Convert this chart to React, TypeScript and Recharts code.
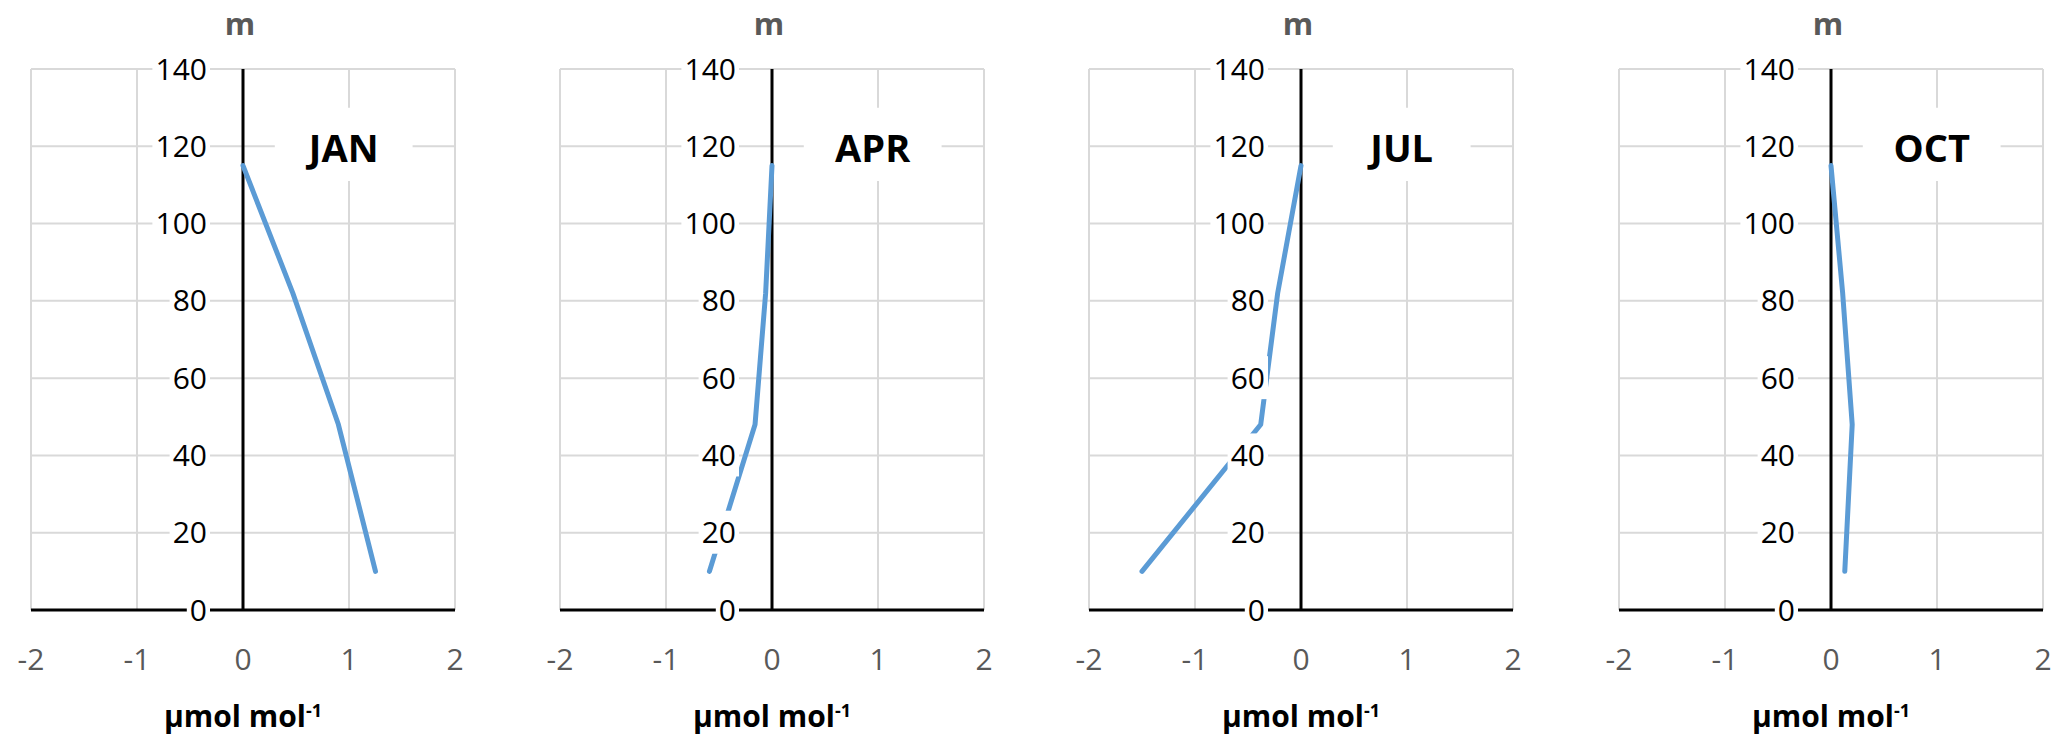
import { LineChart, Line, XAxis, YAxis, CartesianGrid, ReferenceLine, ReferenceArea } from 'recharts'

// depth profiles, one per season (heights in m, values in µmol mol-1)
const MONTHS = ['JAN', 'APR', 'JUL', 'OCT']
const HEIGHTS = [10, 48, 82, 115]
const JAN = [1.25, 0.9, 0.47, 0]
const APR = [-0.59, -0.16, -0.06, 0]
const JUL = [-1.5, -0.38, -0.22, 0]
const OCT = [0.13, 0.2, 0.11, 0]
const PROFILES = [JAN, APR, JUL, OCT]
const X_TICKS = [-2, -1, 0, 1, 2]
const Y_TICKS = [0, 20, 40, 60, 80, 100, 120, 140]

const W = 529
const H = 750
const Y_AXIS_W = 2
const M = { top: 69, right: 74, bottom: 80, left: 31 - Y_AXIS_W }
const ZERO_X = 31 + (W - 31 - M.right) / 2
const PANEL_LEFT = [0, 529, 1058, 1588]
const FONT = '"Open Sans", sans-serif'

function YTick({ y, payload }: any) {
  const s = String(payload.value)
  const right = ZERO_X - 36
  const w = s.length * 17.2
  return (
    <g>
      <rect x={right - w - 3} y={y - 22} width={w + 6} height={43} fill="#fff" />
      <text x={right} y={y + 10.5} textAnchor="end" fontSize={30} fontFamily={FONT} fill="#000">
        {s}
      </text>
    </g>
  )
}

function XTick({ x, payload }: any) {
  return (
    <text x={x} y={670} textAnchor="middle" fontSize={30} fontFamily={FONT} fill="#595959">
      {payload.value}
    </text>
  )
}

function UnitLabel({ viewBox }: any) {
  const cx = viewBox ? viewBox.x + viewBox.width / 2 : ZERO_X
  return (
    <text x={cx} y={727} textAnchor="middle" fontSize={30} fontWeight={700} fontFamily={FONT} fill="#000">
      µmol mol<tspan fontSize={18} dy={-10}>-1</tspan>
    </text>
  )
}

function MLabel() {
  return (
    <text x={ZERO_X - 3} y={35} textAnchor="middle" fontSize={31} fontWeight={700} fontFamily={FONT} fill="#595959">
      m
    </text>
  )
}

function MonthLabel({ viewBox, text }: any) {
  const cx = viewBox.x + viewBox.width / 2
  const cy = viewBox.y + viewBox.height / 2
  return (
    <text x={cx} y={cy + 18} textAnchor="middle" fontSize={38} fontWeight={700} fontFamily={FONT} fill="#000">
      {text}
    </text>
  )
}

function Panel({ month, values }: { month: string; values: number[] }) {
  const data = HEIGHTS.map((h, i) => ({ h, v: values[i] }))
  return (
    <LineChart width={W} height={H} data={data} margin={M} style={{ fontFamily: FONT }}>
      <CartesianGrid stroke="#d9d9d9" strokeWidth={2} />
      <ReferenceArea
        x1={0.3}
        x2={1.6}
        y1={111}
        y2={130}
        fill="#fff"
        fillOpacity={1}
        stroke="none"
        zIndex={-50}
        label={<MonthLabel text={month} />}
      />
      <ReferenceLine x={0} stroke="#000" strokeWidth={3} zIndex={300} label={<MLabel />} />
      <Line
        type="linear"
        dataKey="h"
        stroke="#5b9bd5"
        strokeWidth={5}
        strokeLinecap="round"
        strokeLinejoin="round"
        dot={false}
        activeDot={false}
        isAnimationActive={false}
      />
      <XAxis
        type="number"
        dataKey="v"
        domain={[-2, 2]}
        ticks={X_TICKS}
        axisLine={{ stroke: '#000', strokeWidth: 3 }}
        tickLine={false}
        tick={<XTick />}
        height={60}
        zIndex={500}
        label={<UnitLabel />}
      />
      <YAxis
        type="number"
        domain={[0, 140]}
        ticks={Y_TICKS}
        interval={0}
        width={Y_AXIS_W}
        axisLine={false}
        tickLine={false}
        tick={<YTick />}
        zIndex={510}
      />
    </LineChart>
  )
}

export default function App() {
  return (
    <div style={{ position: 'absolute', left: 0, top: 0, width: 2067, height: 750, background: '#fff' }}>
      {MONTHS.map((m, i) => (
        <div key={m} style={{ position: 'absolute', left: PANEL_LEFT[i], top: 0 }}>
          <Panel month={m} values={PROFILES[i]} />
        </div>
      ))}
    </div>
  )
}
